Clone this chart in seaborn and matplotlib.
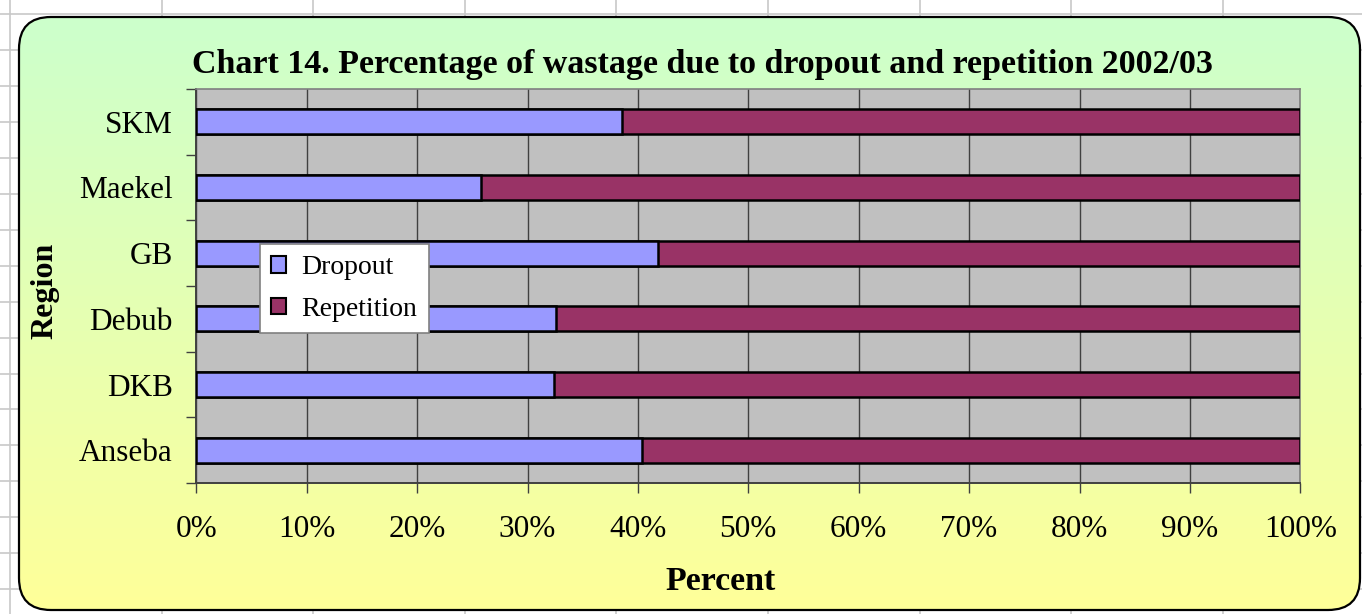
import matplotlib
matplotlib.use("Agg")
import matplotlib.pyplot as plt
import numpy as np
import pandas as pd
import seaborn as sns
from matplotlib.patches import FancyBboxPatch, Patch
from matplotlib.ticker import FixedLocator, FuncFormatter

# ---- data ----
regions = ["SKM", "Maekel", "GB", "Debub", "DKB", "Anseba"]
dropout = [38.6, 25.8, 41.8, 32.6, 32.4, 40.4]
repetition = [61.4, 74.2, 58.2, 67.4, 67.6, 59.6]
series_names = ["Dropout", "Repetition"]
title = "Chart 14. Percentage of wastage due to dropout and repetition 2002/03"
xticks = list(range(0, 101, 10))

sns.set_theme(style="white")
plt.rcParams["font.family"] = ["Liberation Serif", "DejaVu Serif"]
plt.rcParams["text.color"] = "black"
plt.rcParams["xtick.color"] = "black"
plt.rcParams["ytick.color"] = "black"
plt.rcParams["axes.labelcolor"] = "black"

W, H = 1362, 614
fig = plt.figure(figsize=(W / 100, H / 100), dpi=100)
fig.patch.set_facecolor("white")

# ---- background: spreadsheet grid + rounded gradient chart area ----
bg = fig.add_axes([0, 0, 1, 1], zorder=-1)
bg.set_xlim(0, W)
bg.set_ylim(H, 0)
bg.axis("off")
for k in range(10):
    bg.plot([10 + 151.6 * k] * 2, [0, H], color="#C8C8C8", lw=1.2, zorder=0)
for k in range(18):
    bg.plot([0, W], [14 + 35.95 * k] * 2, color="#C8C8C8", lw=1.2, zorder=0)
box = FancyBboxPatch((19, 17), 1341, 593, boxstyle="round,pad=0,rounding_size=32",
                     facecolor="none", edgecolor="black", lw=1.6, zorder=3)
bg.add_patch(box)
top_c = np.array([204, 255, 204]) / 255
bot_c = np.array([255, 255, 153]) / 255
t = np.linspace(0, 1, 256)[:, None]
grad = (top_c[None, :] * (1 - t) + bot_c[None, :] * t)[:, None, :]
im = bg.imshow(grad, extent=(19, 1360, 610, 17), origin="upper", aspect="auto", zorder=1)
im.set_clip_path(box)

# ---- main axes ----
ax = fig.add_axes([196.3 / W, 1 - 483 / H, 1104 / W, 394 / H], zorder=2)
ax.set_facecolor("#C0C0C0")

df = pd.DataFrame({"Region": regions, "Dropout": dropout, "Repetition": repetition})
df["Total"] = df["Dropout"] + df["Repetition"]

sns.barplot(data=df, x="Total", y="Region", orient="h", color="#993366", saturation=1,
            width=0.38, edgecolor="black", linewidth=1.8, ax=ax, zorder=3)
sns.barplot(data=df, x="Dropout", y="Region", orient="h", color="#9999FF", saturation=1,
            width=0.38, edgecolor="black", linewidth=1.8, ax=ax, zorder=4)

ax.set_xlim(0, 100)
ax.set_ylim(len(regions) - 0.5, -0.5)
ax.xaxis.set_major_locator(FixedLocator(xticks))
ax.xaxis.set_major_formatter(FuncFormatter(lambda v, p: f"{int(v)}%"))
ax.set_axisbelow(True)
ax.grid(axis="x", color="#404040", lw=1.0, zorder=0)
ax.grid(axis="y", visible=False)

ax.tick_params(axis="x", which="major", direction="out", length=7, width=1, color="#404040",
               pad=16, labelsize=22.5, bottom=True, labelcolor="black")
ax.tick_params(axis="y", which="major", length=0, pad=17, labelsize=22.5, left=True,
               labelcolor="black")
ax.yaxis.set_minor_locator(FixedLocator(np.arange(-0.5, len(regions), 1.0)))
ax.tick_params(axis="y", which="minor", direction="out", length=7, width=1, color="#404040", left=True)

for s in ["top", "right"]:
    ax.spines[s].set_color("#808080")
    ax.spines[s].set_linewidth(1.2)
for s in ["left", "bottom"]:
    ax.spines[s].set_color("#404040")
    ax.spines[s].set_linewidth(1.4)

ax.set_xlabel("")
ax.set_ylabel("")

# ---- texts ----
fig.text(702 / W, 1 - 64 / H, title, ha="center", va="center", fontsize=24.5,
         fontweight="bold", color="black")
fig.text(721 / W, 1 - 582 / H, "Percent", ha="center", va="center", fontsize=24.5,
         fontweight="bold", color="black")
fig.text(45 / W, 1 - 291 / H, "Region", ha="center", va="center", fontsize=23,
         fontweight="bold", rotation=90, color="black")

# ---- legend ----
handles = [Patch(facecolor="#9999FF", edgecolor="black", lw=1.5),
           Patch(facecolor="#993366", edgecolor="black", lw=1.5)]
leg = ax.legend(handles, series_names, loc="upper left",
                bbox_to_anchor=(260 / W, 1 - 244 / H), bbox_transform=fig.transFigure,
                borderaxespad=0, fancybox=False, frameon=True, framealpha=1,
                edgecolor="#808080", facecolor="white", fontsize=20,
                handlelength=0.55, handleheight=0.55, handletextpad=0.55,
                labelspacing=0.6, borderpad=0.4)
leg.get_frame().set_linewidth(1.2)
for txt in leg.get_texts():
    txt.set_color("black")
leg.set_zorder(10)

fig.savefig("out.png", dpi=100)
